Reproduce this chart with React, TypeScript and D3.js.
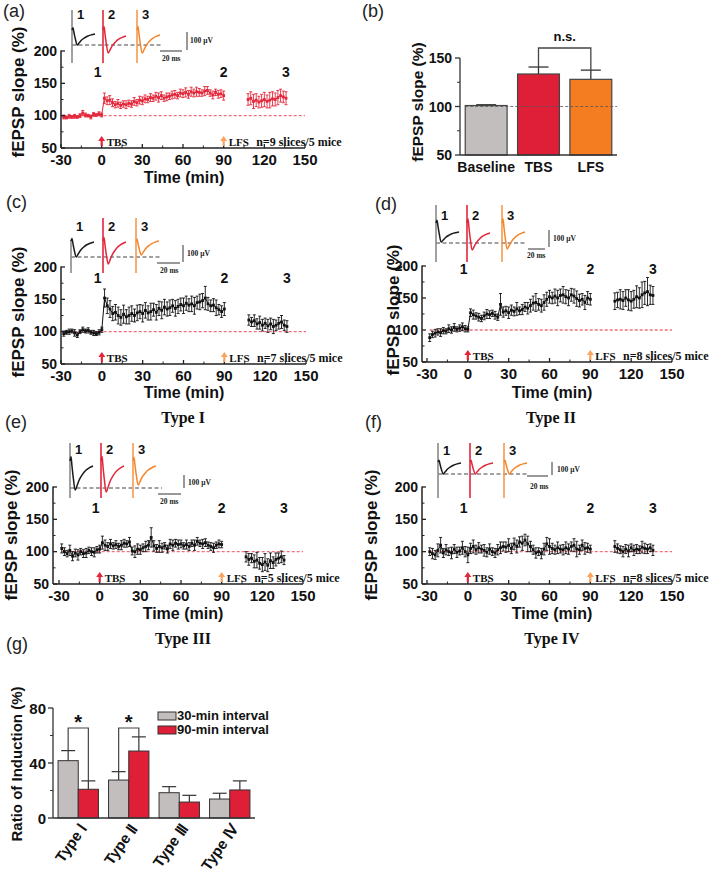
import React from "react";
import * as d3 from "d3";

const SANS = '"Liberation Sans", Arial, Helvetica, sans-serif';
const SERIF = '"Liberation Serif", "Times New Roman", Times, serif';

// ---------- time-course data ----------
const timesEarly = [-28,-26,-24,-22,-20,-18,-16,-14,-12,-10,-8,-6,-4,-2,0,2,4,6,8,10,12,14,16,18,20,22,24,26,28,30,32,34,36,38,40,42,44,46,48,50,52,54,56,58,60,62,64,66,68,70,72,74,76,78,80,82,84,86,88,90];
const timesLate = [108,110,112,114,116,118,120,122,124,126,128,130,132,134,136];
const xTicks = [-30, 0, 30, 60, 90, 120, 150];
const xMinorTicks = [-15, 15, 45, 75, 105, 135];
const yTicks = [50, 100, 150, 200];
const yMinorTicks = [75, 125, 175];

const aEarly = [98,97,99,98,99,98,100,104,101,100,98,102,101,103,101,
  127,123,124,120,117,119,116,118,117,119,118,122,120,124,123,
  126,125,128,127,130,128,131,127,129,130,132,133,131,135,134,
  136,133,137,135,137,136,135,138,139,135,132,136,133,134,131];
const aEarlyErr = [3,2,3,2,3,2,3,4,3,2,3,3,2,3,3,
  8,6,7,6,5,6,5,5,6,5,5,6,5,6,6,
  6,5,6,5,6,7,6,5,6,5,6,6,5,6,6,
  7,6,7,6,7,6,5,7,6,5,6,5,6,6,7];
const aLate = [125,127,122,124,121,123,125,122,124,126,125,128,131,129,127];
const aLateErr = [9,10,11,10,9,10,11,10,12,11,10,11,10,9,10];

const cEarly = [97,99,100,101,98,95,100,103,101,102,99,98,97,99,103,
  152,140,135,128,130,125,122,127,123,125,128,125,129,131,128,
  133,129,131,134,130,136,133,138,135,137,140,136,139,142,140,
  144,141,143,140,145,146,148,152,143,140,141,137,134,131,135];
const cEarlyErr = [4,3,4,3,5,4,3,4,3,4,3,4,3,4,4,
  14,12,13,11,12,13,12,14,11,13,12,10,12,11,13,
  12,11,13,10,12,11,13,12,11,12,10,12,11,10,12,
  11,10,12,13,10,12,11,18,10,9,10,12,8,9,10];
const cLate = [118,115,117,112,114,110,113,109,112,108,110,113,115,110,108];
const cLateErr = [8,7,9,8,10,9,8,10,9,11,8,9,10,8,9];

const dEarly = [88,93,95,97,96,99,98,102,100,104,101,103,105,102,101,
  127,124,122,120,118,122,125,124,126,123,120,140,128,130,127,
  131,129,133,130,132,136,134,138,142,143,140,138,143,148,152,
  150,153,150,154,155,152,150,155,153,149,146,148,143,150,148];
const dEarlyErr = [6,5,6,5,6,5,4,6,5,6,4,5,6,5,4,
  6,7,5,6,5,6,7,6,5,6,5,17,8,7,9,
  8,7,10,6,8,7,9,10,11,14,9,10,12,11,10,
  9,11,12,10,13,11,12,10,11,12,10,9,11,10,9];
const dLate = [145,147,148,146,150,147,145,148,152,150,155,158,160,155,154];
const dLateErr = [13,12,15,14,13,16,15,14,17,16,20,18,22,15,14];

const eEarly = [105,100,97,102,93,98,95,100,97,98,102,100,99,103,104,
  114,110,108,112,109,111,108,110,113,112,115,101,100,104,103,
  106,108,110,122,109,105,108,106,109,104,112,110,113,111,112,
  109,111,108,113,110,116,113,112,114,110,108,106,110,112,111];
const eEarlyErr = [7,6,5,8,7,6,8,5,6,7,5,6,7,5,6,
  10,8,6,7,5,6,5,7,6,5,7,6,9,8,7,
  6,8,7,15,8,6,9,7,5,6,7,8,6,7,6,
  5,7,6,5,8,6,5,7,6,5,6,7,5,6,5];
const eLate = [92,88,90,85,87,82,80,84,79,86,83,88,90,92,87];
const eLateErr = [8,9,7,10,12,9,11,13,10,12,9,10,8,9,7];

const fEarly = [100,97,95,102,110,98,103,100,98,104,99,101,106,100,95,
  105,108,103,106,104,102,99,104,100,98,103,106,108,107,110,
  105,112,108,115,113,118,112,108,103,98,100,97,104,112,108,
  105,103,106,104,103,106,104,108,110,104,103,110,105,106,104];
const fEarlyErr = [6,8,7,10,12,7,8,6,9,7,8,6,10,8,12,
  8,10,7,8,6,9,7,8,6,7,8,9,7,8,10,
  8,9,10,8,11,9,12,8,7,8,6,8,9,10,12,
  8,7,9,6,8,9,8,7,10,12,7,8,9,7,6];
const fLate = [108,105,103,100,104,101,106,102,104,103,107,105,104,106,102];
const fLateErr = [9,7,6,8,7,9,6,8,7,6,9,8,7,6,8];

const nLabels = ["n=9 slices/5 mice", "n=7 slices/5 mice", "n=8 slices/5 mice", "n=5 slices/5 mice", "n=8 slices/5 mice"];
const pointLabels = ["1", "2", "3"];
const pointLabelTimes = [-3, 90, 136];

// inset trace template (ms after stimulus, fraction of dip)
const traceMs = [0, 1, 2, 3.5, 5.5, 7.5, 10, 13, 16, 20, 24];
const traceShape = [0, -0.15, 0.15, 0.6, 1, 0.8, 0.55, 0.35, 0.2, 0.08, 0];
const insetDepthA = [15, 23, 23];
const insetDepthC = [16, 23, 14];
const insetDepthD = [19, 27, 26];
const insetDepthE = [29, 31, 24];
const insetDepthF = [12, 12, 12];

// ---------- (b) ----------
const bCategories = ["Baseline", "TBS", "LFS"];
const bValues = [101, 133.5, 128];
const bErrors = [0.8, 7.2, 9.5];
const bTicks = [50, 100, 150];
const bMinor = [75, 125];

// ---------- (g) ----------
const gTypes = ["Type \u2160", "Type \u2161", "Type \u2162", "Type \u2163"];
const g30 = [41.7, 27.6, 18.4, 13.8];
const g30Err = [7.3, 6.1, 4.4, 4.2];
const g90 = [20.9, 48.7, 11.6, 20.4];
const g90Err = [6.1, 10.3, 4.9, 6.6];
const gSeries = ["30-min interval", "90-min interval"];
const gTicks = [0, 40, 80];
const gMinor = [20, 60];

const RED = "#e3263a";
const ORANGE = "#f5862a";
const GRAY = "#c2bebd";
const TRACE_COLORS = ["#1a1a1a", RED, ORANGE];
const ART_COLORS = ["#8a8a8a", RED, "#f79a4e"];

type InsetCfg = {
  ax: number; by: number; artTop: number[]; bot: number; dx: number[];
  depth: number[]; rec: number[]; labelY: number; dashY: number; dashEnd: number;
  sv: [number, number, number]; svText: [number, number];
  sh: [number, number, number]; shText: [number, number];
};

type PanelCfg = {
  x0: number; x1: number; yt: number; yb: number; axisX: number;
  numY: number; letter: string; letterPos: [number, number];
  yTitle: [number, number]; xTitle: [number, number];
  sub?: string; subPos?: [number, number]; inset: InsetCfg;
};

function Inset({ c }: { c: InsetCfg }) {
  const ts = d3.scaleLinear().domain([0, 24]).range([0, 23]);
  return (
    <g>
      <line x1={c.ax} x2={c.dashEnd} y1={c.dashY} y2={c.dashY} stroke="#444" strokeWidth={1.2} strokeDasharray="4,2.5" />
      {c.dx.map((dx, i) => {
        const x0 = c.ax + dx;
        const depth = c.depth[i];
        const rec = c.rec[i];
        const pts: [number, number][] = traceMs.map((t, k) => {
          const yy = k <= 4 ? c.by + depth * traceShape[k] : c.by + rec + (depth - rec) * traceShape[k];
          return [x0 + ts(t), yy];
        });
        const path = d3.line().curve(d3.curveCatmullRom)(pts) || "";
        return (
          <g key={i}>
            <line x1={x0} x2={x0} y1={c.artTop[i]} y2={c.bot} stroke={ART_COLORS[i]} strokeWidth={1.6} />
            <path d={path} fill="none" stroke={TRACE_COLORS[i]} strokeWidth={1.5} />
            <text x={x0 + 5} y={c.labelY} fontFamily={SANS} fontWeight="bold" fontSize={13} fill="#111">{pointLabels[i]}</text>
          </g>
        );
      })}
      <line x1={c.sv[0]} x2={c.sv[0]} y1={c.sv[1]} y2={c.sv[2]} stroke="#333" strokeWidth={1} />
      <text x={c.svText[0]} y={c.svText[1]} fontFamily={SERIF} fontWeight="bold" fontSize={7.5} fill="#222">100 μV</text>
      <line x1={c.sh[0]} x2={c.sh[1]} y1={c.sh[2]} y2={c.sh[2]} stroke="#333" strokeWidth={1} />
      <text x={c.shText[0]} y={c.shText[1]} fontFamily={SERIF} fontWeight="bold" fontSize={7.5} fill="#222">20 ms</text>
    </g>
  );
}

function Arrow({ x, yb, color, label }: { x: number; yb: number; color: string; label: string }) {
  const top = yb - 12;
  const bot = yb - 2;
  const d = `M${x},${top} L${x - 3.5},${top + 5} L${x - 1.1},${top + 5} L${x - 1.1},${bot} L${x + 1.1},${bot} L${x + 1.1},${top + 5} L${x + 3.5},${top + 5} Z`;
  return (
    <g>
      <path d={d} fill={color} />
      <text x={x + 5} y={yb - 2} fontFamily={SERIF} fontWeight="bold" fontSize={11} fill="#111">{label}</text>
    </g>
  );
}

function TimePanel({ cfg, early, earlyErr, late, lateErr, color, nLabel }: {
  cfg: PanelCfg; early: number[]; earlyErr: number[]; late: number[]; lateErr: number[]; color: string; nLabel: string;
}) {
  const x = d3.scaleLinear().domain([-30, 150]).range([cfg.x0, cfg.x1]);
  const y = d3.scaleLinear().domain([50, 200]).range([cfg.yb, cfg.yt]);
  const segs = [
    timesEarly.map((t, i) => ({ t, v: early[i], e: earlyErr[i] })),
    timesLate.map((t, i) => ({ t, v: late[i], e: lateErr[i] })),
  ];
  const line = d3.line<{ t: number; v: number }>().x((d) => x(d.t)).y((d) => y(d.v));
  const axisColor = "#222";
  return (
    <g>
      <text x={cfg.letterPos[0]} y={cfg.letterPos[1]} fontFamily={SANS} fontSize={18} fill="#222">{cfg.letter}</text>
      <Inset c={cfg.inset} />
      {/* reference line */}
      <line x1={x(-28)} x2={x(150)} y1={y(100)} y2={y(100)} stroke="#f0707a" strokeWidth={1.3} strokeDasharray="3,2" />
      {/* data */}
      {segs.map((seg, si) => (
        <g key={si}>
          <path d={line(seg) || ""} fill="none" stroke={color} strokeWidth={1} />
          {seg.map((d, i) => (
            <g key={i}>
              <line x1={x(d.t)} x2={x(d.t)} y1={y(d.v - d.e)} y2={y(d.v + d.e)} stroke={color} strokeWidth={0.9} />
              <line x1={x(d.t) - 1.5} x2={x(d.t) + 1.5} y1={y(d.v + d.e)} y2={y(d.v + d.e)} stroke={color} strokeWidth={0.9} />
              <line x1={x(d.t) - 1.5} x2={x(d.t) + 1.5} y1={y(d.v - d.e)} y2={y(d.v - d.e)} stroke={color} strokeWidth={0.9} />
              <rect x={x(d.t) - 1.4} y={y(d.v) - 1.4} width={2.8} height={2.8} fill={color} />
            </g>
          ))}
        </g>
      ))}
      {/* point labels */}
      {pointLabels.map((l, i) => (
        <text key={l} x={x(pointLabelTimes[i])} y={cfg.numY} textAnchor="middle" fontFamily={SANS} fontWeight="bold" fontSize={14} fill="#111">{l}</text>
      ))}
      {/* axes */}
      <line x1={cfg.axisX} x2={cfg.axisX} y1={y(200) - 0.5} y2={cfg.yb} stroke={axisColor} strokeWidth={1.5} />
      <line x1={cfg.axisX} x2={x(150)} y1={cfg.yb} y2={cfg.yb} stroke={axisColor} strokeWidth={1.5} />
      {yTicks.map((t) => (
        <g key={t}>
          <line x1={cfg.axisX} x2={cfg.axisX + 4} y1={y(t)} y2={y(t)} stroke={axisColor} strokeWidth={1.3} />
          <text x={cfg.axisX - 4} y={y(t) + 4.5} textAnchor="end" fontFamily={SANS} fontWeight="bold" fontSize={14} fill="#111">{t}</text>
        </g>
      ))}
      {yMinorTicks.map((t) => (
        <line key={t} x1={cfg.axisX} x2={cfg.axisX + 2.5} y1={y(t)} y2={y(t)} stroke={axisColor} strokeWidth={1} />
      ))}
      {xTicks.map((t) => (
        <g key={t}>
          <line x1={x(t)} x2={x(t)} y1={cfg.yb} y2={cfg.yb - 4} stroke={axisColor} strokeWidth={1.3} />
          <text x={x(t)} y={cfg.yb + 17} textAnchor="middle" fontFamily={SANS} fontWeight="bold" fontSize={15} fill="#111">{t}</text>
        </g>
      ))}
      {xMinorTicks.map((t) => (
        <line key={t} x1={x(t)} x2={x(t)} y1={cfg.yb} y2={cfg.yb - 2.5} stroke={axisColor} strokeWidth={1} />
      ))}
      <Arrow x={x(0)} yb={cfg.yb} color={RED} label="TBS" />
      <Arrow x={x(90)} yb={cfg.yb} color="#f9a35f" label="LFS" />
      <text x={x(114)} y={cfg.yb - 2} fontFamily={SERIF} fontWeight="bold" fontSize={12} fill="#111">{nLabel}</text>
      <text transform={`translate(${cfg.yTitle[0]},${cfg.yTitle[1]}) rotate(-90)`} textAnchor="middle" dy="0.35em" fontFamily={SANS} fontWeight="bold" fontSize={17} fill="#111">fEPSP slope (%)</text>
      <text x={cfg.xTitle[0]} y={cfg.xTitle[1]} textAnchor="middle" fontFamily={SANS} fontWeight="bold" fontSize={16} fill="#111">Time (min)</text>
      {cfg.sub && cfg.subPos && (
        <text x={cfg.subPos[0]} y={cfg.subPos[1]} textAnchor="middle" fontFamily={SERIF} fontWeight="bold" fontSize={16} fill="#111">{cfg.sub}</text>
      )}
    </g>
  );
}

const cfgA: PanelCfg = {
  x0: 61, x1: 305, yt: 51, yb: 148, axisX: 61, numY: 77, letter: "(a)", letterPos: [3, 17],
  yTitle: [18, 92], xTitle: [184, 183],
  inset: { ax: 72, by: 30, artTop: [10, 10, 10], bot: 63, dx: [0, 31, 65], depth: insetDepthA, rec: [4, 6, 5],
    labelY: 19, dashY: 45, dashEnd: 163, sv: [187, 32, 50], svText: [190, 43], sh: [160, 182, 51], shText: [162, 61] },
};
const cfgC: PanelCfg = {
  x0: 61, x1: 306, yt: 267, yb: 364, axisX: 61, numY: 283, letter: "(c)", letterPos: [6, 208],
  yTitle: [18, 312], xTitle: [184, 398], sub: "Type I", subPos: [183, 423],
  inset: { ax: 71, by: 241, artTop: [240, 218, 218], bot: 273, dx: [0, 32, 65], depth: insetDepthC, rec: [1, 1, 0],
    labelY: 231, dashY: 257, dashEnd: 162, sv: [183, 245, 262], svText: [187, 256], sh: [157, 180, 263], shText: [160, 273] },
};
const cfgD: PanelCfg = {
  x0: 427, x1: 672, yt: 266, yb: 362, axisX: 422, numY: 274, letter: "(d)", letterPos: [375, 210],
  yTitle: [393, 310], xTitle: [552, 398], sub: "Type II", subPos: [551, 423],
  inset: { ax: 436, by: 223, artTop: [205, 205, 205], bot: 262, dx: [0, 31, 66], depth: insetDepthD, rec: [9, 10, 9],
    labelY: 220, dashY: 243, dashEnd: 527, sv: [549, 230, 247], svText: [553, 241], sh: [528, 545, 249], shText: [527, 258] },
};
const cfgE: PanelCfg = {
  x0: 59, x1: 303, yt: 487, yb: 584, axisX: 53, numY: 513, letter: "(e)", letterPos: [5, 428],
  yTitle: [11, 535], xTitle: [183, 619], sub: "Type III", subPos: [183, 644],
  inset: { ax: 70, by: 461, artTop: [443, 443, 443], bot: 498, dx: [0, 31, 63], depth: insetDepthE, rec: [5, 5, 5],
    labelY: 454, dashY: 488, dashEnd: 162, sv: [184, 475, 488], svText: [188, 485], sh: [158, 181, 494], shText: [160, 504] },
};
const cfgF: PanelCfg = {
  x0: 427, x1: 672, yt: 487, yb: 584, axisX: 422, numY: 513, letter: "(f)", letterPos: [365, 428],
  yTitle: [371, 535], xTitle: [552, 619], sub: "Type IV", subPos: [552, 644],
  inset: { ax: 438, by: 462, artTop: [443, 443, 443], bot: 498, dx: [0, 32, 66], depth: insetDepthF, rec: [1, 1, 1],
    labelY: 455, dashY: 474, dashEnd: 527, sv: [552, 462, 475], svText: [557, 472], sh: [527, 548, 476], shText: [530, 489] },
};

function PanelB() {
  const x = d3.scaleBand().domain(bCategories).range([460, 617]).paddingInner(0.2).paddingOuter(0.1);
  const y = d3.scaleLinear().domain([50, 150]).range([155, 58]);
  const fills = [GRAY, "#de1f37", "#f47d22"];
  const bw = x.bandwidth();
  const cx = (c: string) => (x(c) || 0) + bw / 2;
  const tbsTop = y(bValues[1] + bErrors[1]);
  const lfsTop = y(bValues[2] + bErrors[2]);
  const brY = 48;
  return (
    <g>
      <text x={362} y={17} fontFamily={SANS} fontSize={18} fill="#222">(b)</text>
      {bCategories.map((c, i) => (
        <g key={c}>
          <line x1={cx(c)} x2={cx(c)} y1={y(bValues[i])} y2={y(bValues[i] + bErrors[i])} stroke="#333" strokeWidth={1.3} />
          <line x1={cx(c) - 10} x2={cx(c) + 10} y1={y(bValues[i] + bErrors[i])} y2={y(bValues[i] + bErrors[i])} stroke="#333" strokeWidth={1.3} />
          <rect x={x(c)} y={y(bValues[i])} width={bw} height={y(50) - y(bValues[i])} fill={fills[i]} stroke="#444" strokeWidth={1.2} />
          <text x={cx(c)} y={172} textAnchor="middle" fontFamily={SANS} fontWeight="bold" fontSize={14} fill="#111">{c}</text>
        </g>
      ))}
      <line x1={x("Baseline")} x2={617} y1={y(100)} y2={y(100)} stroke="#555" strokeWidth={0.8} strokeDasharray="3,2" />
      <line x1={460} x2={460} y1={y(150)} y2={y(50)} stroke="#333" strokeWidth={1.3} />
      <line x1={460} x2={617} y1={y(50)} y2={y(50)} stroke="#333" strokeWidth={1.3} />
      {bTicks.map((t) => (
        <g key={t}>
          <line x1={455} x2={460} y1={y(t)} y2={y(t)} stroke="#333" strokeWidth={1.3} />
          <text x={452} y={y(t) + 5} textAnchor="end" fontFamily={SANS} fontWeight="bold" fontSize={14} fill="#111">{t}</text>
        </g>
      ))}
      {bMinor.map((t) => (
        <line key={t} x1={457} x2={460} y1={y(t)} y2={y(t)} stroke="#333" strokeWidth={1} />
      ))}
      <path d={`M${cx("TBS")},${tbsTop} V${brY} H${cx("LFS")} V${lfsTop}`} fill="none" stroke="#444" strokeWidth={1.3} />
      <text x={(cx("TBS") + cx("LFS")) / 2} y={41} textAnchor="middle" fontFamily={SANS} fontWeight="bold" fontSize={13} fill="#111">n.s.</text>
      <text transform="translate(418,102) rotate(-90)" textAnchor="middle" dy="0.35em" fontFamily={SANS} fontWeight="bold" fontSize={15.5} fill="#111">fEPSP slope (%)</text>
    </g>
  );
}

function PanelG() {
  const x = d3.scaleBand().domain(gTypes).range([53, 255]).paddingInner(0.2).paddingOuter(0.1);
  const y = d3.scaleLinear().domain([0, 80]).range([818, 708]);
  const bw = x.bandwidth() / 2;
  const fills = [GRAY, "#de1f37"];
  const vals = [g30, g90];
  const errs = [g30Err, g90Err];
  const brY = 728;
  return (
    <g>
      <text x={6} y={650} fontFamily={SANS} fontSize={18} fill="#222">(g)</text>
      {gTypes.map((t, i) => (
        <g key={t}>
          {[0, 1].map((s) => {
            const x0 = (x(t) || 0) + s * bw;
            const v = vals[s][i];
            const e = errs[s][i];
            return (
              <g key={s}>
                <line x1={x0 + bw / 2} x2={x0 + bw / 2} y1={y(v)} y2={y(v + e)} stroke="#333" strokeWidth={1.2} />
                <line x1={x0 + bw / 2 - 7} x2={x0 + bw / 2 + 7} y1={y(v + e)} y2={y(v + e)} stroke="#333" strokeWidth={1.2} />
                <rect x={x0} y={y(v)} width={bw} height={y(0) - y(v)} fill={fills[s]} stroke="#333" strokeWidth={1} />
              </g>
            );
          })}
          <text transform={`translate(${(x(t) || 0) + bw + 9},${829}) rotate(-55)`} textAnchor="end" fontFamily={SANS} fontWeight="bold" fontSize={15} fill="#111">{t}</text>
        </g>
      ))}
      {[0, 1].map((i) => {
        const g = gTypes[i];
        const xl = (x(g) || 0) + bw / 2;
        const xr = (x(g) || 0) + bw * 1.5;
        return (
          <g key={i}>
            <path d={`M${xl},${y(g30[i] + g30Err[i])} V${brY} H${xr} V${y(g90[i] + g90Err[i])}`} fill="none" stroke="#444" strokeWidth={1.2} />
            <text x={(xl + xr) / 2} y={brY + 1} textAnchor="middle" fontFamily={SANS} fontWeight="bold" fontSize={20} fill="#111">*</text>
          </g>
        );
      })}
      <line x1={53} x2={53} y1={y(80)} y2={y(0)} stroke="#333" strokeWidth={1.3} />
      <line x1={53} x2={255} y1={y(0)} y2={y(0)} stroke="#333" strokeWidth={1.3} />
      {gTicks.map((t) => (
        <g key={t}>
          <line x1={48} x2={53} y1={y(t)} y2={y(t)} stroke="#333" strokeWidth={1.3} />
          <text x={46} y={y(t) + 5.5} textAnchor="end" fontFamily={SANS} fontWeight="bold" fontSize={15} fill="#111">{t}</text>
        </g>
      ))}
      {gMinor.map((t) => (
        <line key={t} x1={50} x2={53} y1={y(t)} y2={y(t)} stroke="#333" strokeWidth={1} />
      ))}
      {gSeries.map((s, i) => (
        <g key={s}>
          <rect x={158} y={712 + i * 14} width={18} height={8} fill={fills[i]} stroke="#333" strokeWidth={1} />
          <text x={177} y={720 + i * 14} fontFamily={SANS} fontWeight="bold" fontSize={13} fill="#111">{s}</text>
        </g>
      ))}
      <text transform="translate(17,764) rotate(-90)" textAnchor="middle" dy="0.35em" fontFamily={SANS} fontWeight="bold" fontSize={15} fill="#111">Ratio of Induction (%)</text>
    </g>
  );
}

export default function App() {
  return (
    <svg width={720} height={871} viewBox="0 0 720 871" style={{ position: "absolute", left: 0, top: 0, background: "#fff" }}>
      <rect width={720} height={871} fill="#fff" />
      <TimePanel cfg={cfgA} early={aEarly} earlyErr={aEarlyErr} late={aLate} lateErr={aLateErr} color={RED} nLabel={nLabels[0]} />
      <PanelB />
      <TimePanel cfg={cfgC} early={cEarly} earlyErr={cEarlyErr} late={cLate} lateErr={cLateErr} color="#111" nLabel={nLabels[1]} />
      <TimePanel cfg={cfgD} early={dEarly} earlyErr={dEarlyErr} late={dLate} lateErr={dLateErr} color="#111" nLabel={nLabels[2]} />
      <TimePanel cfg={cfgE} early={eEarly} earlyErr={eEarlyErr} late={eLate} lateErr={eLateErr} color="#111" nLabel={nLabels[3]} />
      <TimePanel cfg={cfgF} early={fEarly} earlyErr={fEarlyErr} late={fLate} lateErr={fLateErr} color="#111" nLabel={nLabels[4]} />
      <PanelG />
    </svg>
  );
}
